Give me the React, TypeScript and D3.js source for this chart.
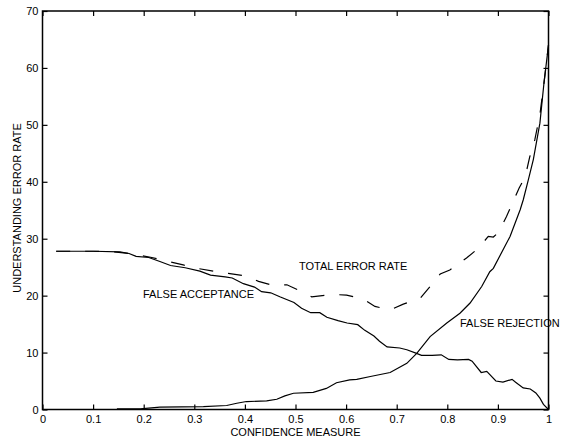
import React, { useEffect, useRef } from 'react'
import * as d3 from 'd3'

// false acceptance (solid, falling)
const faX = [0.027, 0.1, 0.153, 0.171, 0.185, 0.21, 0.232, 0.253, 0.282, 0.311, 0.332, 0.361, 0.375, 0.397, 0.419, 0.433, 0.451, 0.469, 0.497, 0.512, 0.53, 0.548, 0.562, 0.584, 0.602, 0.623, 0.637, 0.655, 0.666, 0.681, 0.706, 0.72, 0.738, 0.749, 0.77, 0.788, 0.803, 0.82, 0.842, 0.849, 0.867, 0.878, 0.896, 0.91, 0.928, 0.935, 0.95, 0.964, 0.975, 0.983, 0.99, 1.0]
const faY = [27.8, 27.8, 27.7, 27.4, 26.9, 26.7, 26.0, 25.3, 24.9, 24.3, 23.6, 23.3, 23.1, 22.1, 21.5, 20.7, 20.5, 19.8, 18.8, 17.8, 17.0, 17.0, 16.2, 15.6, 15.2, 14.9, 13.9, 12.9, 12.0, 11.0, 10.8, 10.5, 9.9, 9.5, 9.5, 9.6, 8.8, 8.7, 8.8, 8.5, 6.5, 6.7, 5.0, 4.8, 5.3, 4.8, 3.8, 3.6, 2.9, 2.0, 0.9, 0]

// false rejection (solid, rising)
const frX = [0.147, 0.193, 0.232, 0.318, 0.364, 0.384, 0.403, 0.443, 0.463, 0.479, 0.496, 0.535, 0.561, 0.581, 0.607, 0.621, 0.648, 0.687, 0.72, 0.74, 0.766, 0.799, 0.825, 0.845, 0.868, 0.884, 0.891, 0.924, 0.944, 0.95, 0.96, 0.97, 0.983, 0.991, 1.0]
const frY = [0.1, 0.1, 0.4, 0.5, 0.7, 1.1, 1.4, 1.5, 1.8, 2.4, 2.85, 3.0, 3.7, 4.7, 5.2, 5.3, 5.8, 6.5, 8.1, 9.9, 12.8, 15.2, 16.9, 18.7, 21.6, 24.2, 24.8, 30.4, 35.1, 36.8, 40.3, 43.9, 50.3, 57.3, 64]

// total error rate (dashed)
const teX = [0.027, 0.1, 0.14, 0.172, 0.216, 0.245, 0.278, 0.305, 0.338, 0.367, 0.4, 0.427, 0.456, 0.483, 0.515, 0.532, 0.575, 0.601, 0.634, 0.657, 0.687, 0.713, 0.746, 0.766, 0.786, 0.805, 0.838, 0.861, 0.881, 0.891, 0.901, 0.917, 0.942, 0.954, 0.963, 0.973, 0.983, 0.991, 1.0]
const teY = [27.8, 27.8, 27.7, 27.4, 26.7, 26.1, 25.4, 24.8, 24.3, 23.9, 23.5, 22.5, 21.8, 21.9, 20.6, 19.8, 20.2, 20.1, 19.4, 18.1, 17.5, 18.5, 19.5, 21.6, 23.8, 24.5, 26.6, 28.3, 30.4, 30.3, 31.1, 33.9, 38.9, 40.9, 44.4, 47.4, 51.8, 57.3, 64]

const xTicks = [0, 0.1, 0.2, 0.3, 0.4, 0.5, 0.6, 0.7, 0.8, 0.9, 1]
const yTicks = [0, 10, 20, 30, 40, 50, 60, 70]

const W = 570
const H = 442
const margin = { top: 11, right: 21.5, bottom: 32.5, left: 42.5 }
const font = '"Liberation Sans", Arial, Helvetica, sans-serif'

export default function App() {
  const ref = useRef<SVGSVGElement>(null)

  useEffect(() => {
    const svg = d3.select(ref.current)
    svg.selectAll('*').remove()

    const x = d3.scaleLinear().domain([0, 1]).range([margin.left, W - margin.right])
    const y = d3.scaleLinear().domain([0, 70]).range([H - margin.bottom, margin.top])

    const g = svg.append('g').attr('font-family', font).attr('font-size', 11)

    // ticks on all four sides, pointing inward
    const bottom = g.append('g').attr('transform', `translate(0,${y(0)})`)
      .call(d3.axisBottom(x).tickValues(xTicks).tickSize(-5).tickPadding(6).tickFormat(d3.format('')))
    const left = g.append('g').attr('transform', `translate(${x(0)},0)`)
      .call(d3.axisLeft(y).tickValues(yTicks).tickSize(-5).tickPadding(4))
    const top = g.append('g').attr('transform', `translate(0,${y(70)})`)
      .call(d3.axisTop(x).tickValues(xTicks).tickSize(-5).tickFormat(() => ''))
    const right = g.append('g').attr('transform', `translate(${x(1)},0)`)
      .call(d3.axisRight(y).tickValues(yTicks).tickSize(-5).tickFormat(() => ''))

    ;[bottom, left, top, right].forEach(a => {
      a.select('.domain').remove()
      a.attr('font-family', font).attr('font-size', 11)
      a.selectAll('line').attr('stroke', '#000').attr('stroke-width', 1.2)
      a.selectAll('text').attr('fill', '#000')
    })

    g.append('rect')
      .attr('x', x(0)).attr('y', y(70))
      .attr('width', x(1) - x(0)).attr('height', y(0) - y(70))
      .attr('fill', 'none').attr('stroke', '#000').attr('stroke-width', 1.5)

    const line = d3.line<[number, number]>().x(d => x(d[0])).y(d => y(d[1]))
    const series = [
      { xs: faX, ys: faY, dash: null },
      { xs: frX, ys: frY, dash: null },
      { xs: teX, ys: teY, dash: '14,15' },
    ]
    series.forEach(s => {
      g.append('path')
        .datum(s.xs.map((v, i) => [v, s.ys[i]] as [number, number]))
        .attr('d', line)
        .attr('fill', 'none')
        .attr('stroke', '#000')
        .attr('stroke-width', 1.2)
        .attr('stroke-dasharray', s.dash)
    })

    const notes = [
      { text: 'TOTAL ERROR RATE', x: 299, y: 270 },
      { text: 'FALSE ACCEPTANCE', x: 143, y: 298 },
      { text: 'FALSE REJECTION', x: 460, y: 327 },
    ]
    g.selectAll('text.note').data(notes).enter()
      .append('text').attr('class', 'note')
      .attr('x', d => d.x).attr('y', d => d.y)
      .text(d => d.text)

    g.append('text')
      .attr('x', (x(0) + x(1)) / 2).attr('y', 436)
      .attr('text-anchor', 'middle')
      .text('CONFIDENCE MEASURE')

    g.append('text')
      .attr('transform', `translate(20.5,208) rotate(-90)`)
      .attr('text-anchor', 'middle')
      .text('UNDERSTANDING ERROR RATE')
  }, [])

  return (
    <svg ref={ref} width={W} height={H}
      style={{ position: 'absolute', left: 0, top: 0, background: '#fff' }} />
  )
}
